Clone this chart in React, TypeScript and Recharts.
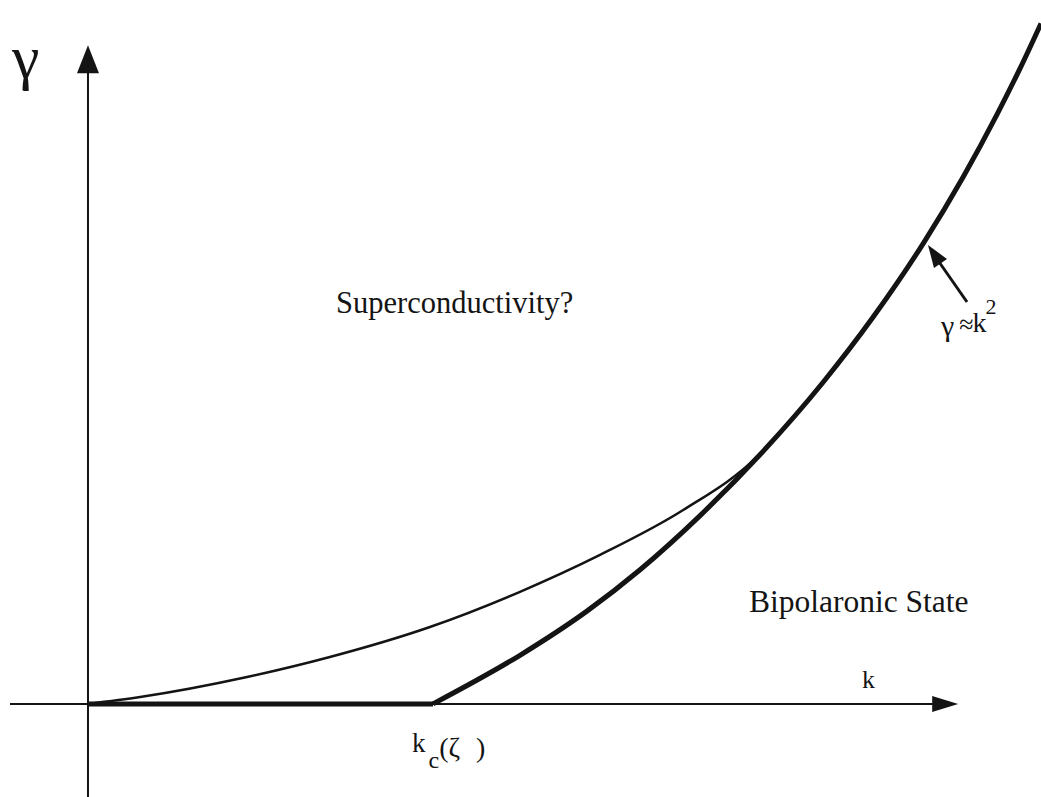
import { LineChart, Line, XAxis, YAxis, ReferenceLine, ReferenceDot } from 'recharts';

// chart size = page photo size
const W = 1041;
const H = 797;

// k in units of k_c, gamma in the same units
const K_DOMAIN: [number, number] = [-0.255, 2.762];
const G_DOMAIN: [number, number] = [-0.27, 2.041];

// gamma ~ k^2 branch (thick), starts at k_c
const thickK = [1.0, 1.252, 1.446, 1.6, 1.774, 1.948, 2.13, 2.275, 2.42, 2.536, 2.635, 2.701, 2.762];
const thickG = [0, 0.141, 0.269, 0.389, 0.546, 0.723, 0.932, 1.121, 1.334, 1.527, 1.71, 1.842, 1.973];

// superconductivity boundary (thin)
const thinK = [0, 0.151, 0.461, 0.701, 0.991, 1.252, 1.484, 1.725, 1.939, 1.962];
const thinG = [0, 0.02, 0.078, 0.136, 0.223, 0.325, 0.432, 0.562, 0.716, 0.739];

// thick piece lying on the k axis, 0 .. k_c
const KC = 1.0;

// axis extents
const X_AXIS = { from: -0.226, to: 2.46, tip: 2.522 };
const Y_AXIS = { from: -0.27, to: 1.85, tip: 1.91 };

const INK = '#141414';
const SERIF = '"Liberation Serif", "Times New Roman", serif';

const zip = (ks: number[], gs: number[]) => ks.map((k, i) => ({ k, g: gs[i] }));

const thickData = zip(thickK, thickG);
const thinData = zip(thinK, thinG);

function ArrowRight(props: any) {
  const { cx, cy } = props;
  return <polygon points={`${cx},${cy} ${cx - 26},${cy - 8} ${cx - 26},${cy + 8}`} fill={INK} />;
}

function ArrowUp(props: any) {
  const { cx, cy } = props;
  return <polygon points={`${cx},${cy} ${cx - 11},${cy + 28} ${cx + 11},${cy + 28}`} fill={INK} />;
}

export default function App() {
  return (
    <div style={{ position: 'absolute', left: 0, top: 0, width: W, height: H, background: '#fff' }}>
      <LineChart width={W} height={H} margin={{ top: 0, right: 0, bottom: 0, left: 0 }}>
        <XAxis type="number" dataKey="k" domain={K_DOMAIN} hide allowDataOverflow />
        <YAxis type="number" dataKey="g" domain={G_DOMAIN} hide allowDataOverflow />

        <ReferenceLine
          segment={[{ x: X_AXIS.from, y: 0 }, { x: X_AXIS.to, y: 0 }]}
          stroke={INK}
          strokeWidth={2}
        />
        <ReferenceLine
          segment={[{ x: 0, y: Y_AXIS.from }, { x: 0, y: Y_AXIS.to }]}
          stroke={INK}
          strokeWidth={2}
        />
        <ReferenceLine
          segment={[{ x: 0, y: 0 }, { x: KC, y: 0 }]}
          stroke={INK}
          strokeWidth={5}
        />
        <ReferenceDot x={X_AXIS.tip} y={0} shape={ArrowRight} />
        <ReferenceDot x={0} y={Y_AXIS.tip} shape={ArrowUp} />

        <Line data={thinData} dataKey="g" type="monotone" stroke={INK} strokeWidth={2.5} dot={false} activeDot={false} isAnimationActive={false} />
        <Line data={thickData} dataKey="g" type="monotone" stroke={INK} strokeWidth={5} dot={false} activeDot={false} isAnimationActive={false} />
      </LineChart>

      <svg
        width={W}
        height={H}
        style={{ position: 'absolute', left: 0, top: 0, pointerEvents: 'none' }}
        fontFamily={SERIF}
        fill={INK}
      >
        <text x={12} y={78} fontSize={62}>γ</text>

        <text x={336} y={313} fontSize={30.5}>Superconductivity?</text>
        <text x={749} y={612} fontSize={31.5}>Bipolaronic State</text>
        <text x={862} y={688} fontSize={26}>k</text>

        {/* k_c(zeta) under the axis */}
        <text x={412} y={752} fontSize={27}>
          k
          <tspan dx={3} dy={16} fontSize={24}>c</tspan>
          <tspan dy={-11} fontSize={28}>(ζ</tspan>
          <tspan dx={16} fontSize={28}>)</tspan>
        </text>

        {/* gamma ~ k^2 annotation */}
        <line x1={967} y1={302} x2={937} y2={259} stroke={INK} strokeWidth={3} />
        <polygon points="928,245 947,259 934,268" fill={INK} />
        <text x={941} y={336} fontSize={30}>
          γ
          <tspan dx={5} dy={-3} fontSize={26}>≈</tspan>
          <tspan dx={-1} dy={-1} fontSize={28}>k</tspan>
          <tspan dx={-1} dy={-18} fontSize={22}>2</tspan>
        </text>
      </svg>
    </div>
  );
}
